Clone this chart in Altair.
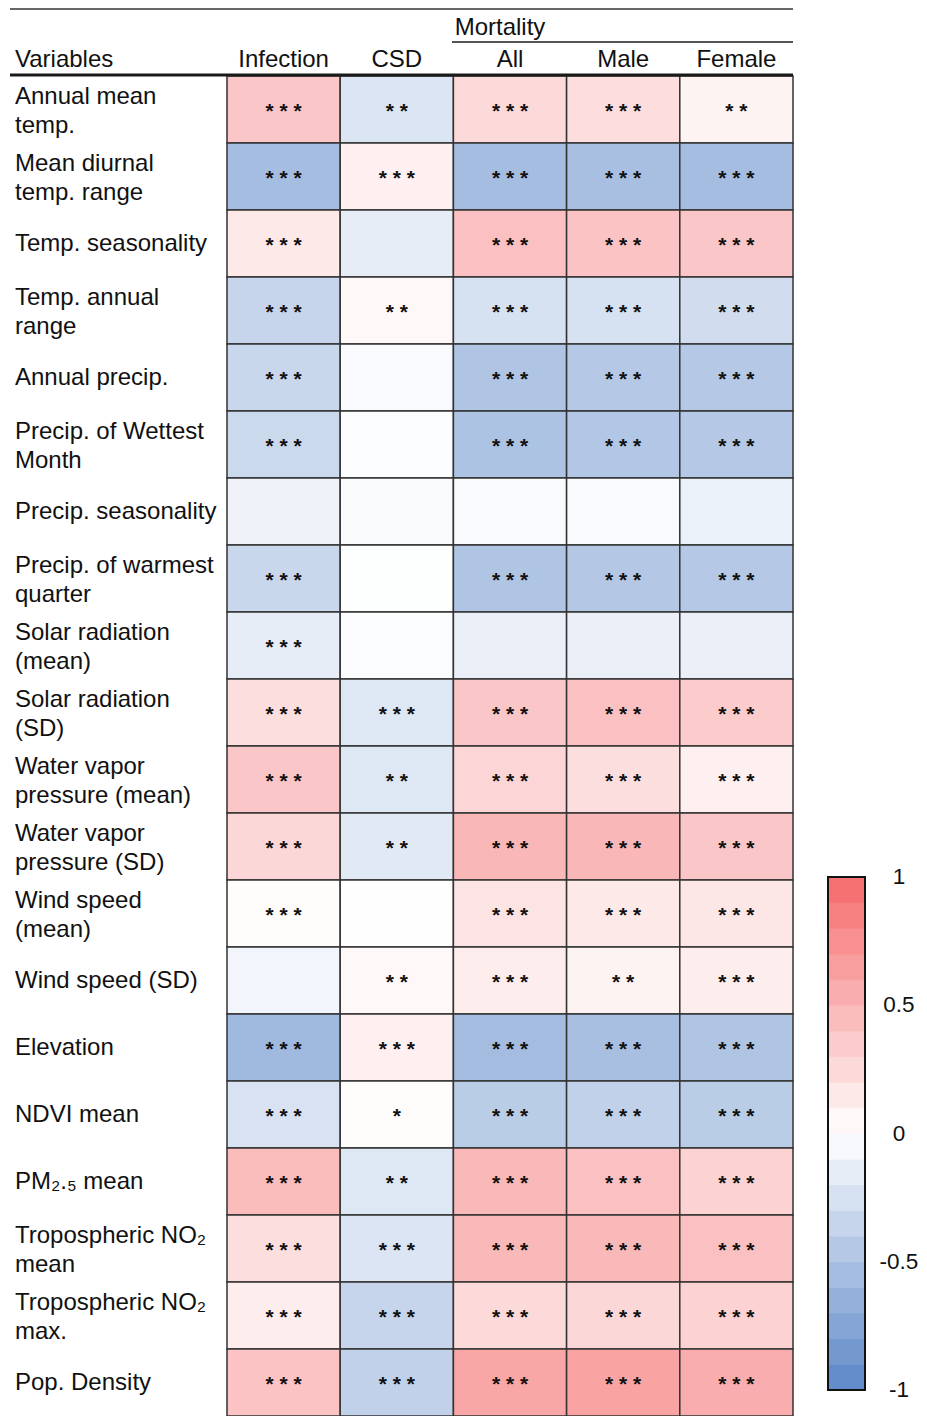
import altair as alt
import pandas as pd

variables = [
    "Annual mean\ntemp.", "Mean diurnal\ntemp. range", "Temp. seasonality",
    "Temp. annual\nrange", "Annual precip.", "Precip. of Wettest\nMonth",
    "Precip. seasonality", "Precip. of warmest\nquarter", "Solar radiation\n(mean)",
    "Solar radiation\n(SD)", "Water vapor\npressure (mean)", "Water vapor\npressure (SD)",
    "Wind speed\n(mean)", "Wind speed (SD)", "Elevation", "NDVI mean",
    "PM\u2082.\u2085 mean", "Tropospheric NO\u2082\nmean", "Tropospheric NO\u2082\nmax.",
    "Pop. Density",
]
columns = ["Infection", "CSD", "All", "Male", "Female"]

infection = [0.38, -0.55, 0.15, -0.35, -0.33, -0.32, -0.10, -0.33, -0.15, 0.22,
             0.38, 0.27, 0.02, -0.08, -0.58, -0.24, 0.45, 0.22, 0.12, 0.40]
csd = [-0.22, 0.10, -0.15, 0.05, -0.04, -0.02, -0.03, -0.01, -0.02, -0.20,
       -0.20, -0.18, 0.01, 0.05, 0.10, 0.02, -0.20, -0.22, -0.35, -0.38]
mort_all = [0.25, -0.55, 0.42, -0.25, -0.48, -0.50, -0.04, -0.48, -0.13, 0.38,
            0.28, 0.48, 0.18, 0.12, -0.56, -0.42, 0.47, 0.47, 0.25, 0.60]
mort_male = [0.23, -0.53, 0.40, -0.25, -0.45, -0.47, -0.04, -0.46, -0.13, 0.42,
             0.22, 0.48, 0.15, 0.08, -0.53, -0.38, 0.42, 0.47, 0.27, 0.62]
mort_female = [0.08, -0.55, 0.38, -0.28, -0.45, -0.45, -0.12, -0.45, -0.13, 0.35,
               0.10, 0.38, 0.17, 0.12, -0.48, -0.42, 0.30, 0.42, 0.30, 0.55]

stars_infection = ["***", "***", "***", "***", "***", "***", "", "***", "***", "***",
                   "***", "***", "***", "", "***", "***", "***", "***", "***", "***"]
stars_csd = ["**", "***", "", "**", "", "", "", "", "", "***",
             "**", "**", "", "**", "***", "*", "**", "***", "***", "***"]
stars_all = ["***", "***", "***", "***", "***", "***", "", "***", "", "***",
             "***", "***", "***", "***", "***", "***", "***", "***", "***", "***"]
stars_male = ["***", "***", "***", "***", "***", "***", "", "***", "", "***",
              "***", "***", "***", "**", "***", "***", "***", "***", "***", "***"]
stars_female = ["**", "***", "***", "***", "***", "***", "", "***", "", "***",
                "***", "***", "***", "***", "***", "***", "***", "***", "***", "***"]

# colour bar: step edges and tick labels
legend_edges = [-1.0, -0.9, -0.8, -0.7, -0.6, -0.5, -0.4, -0.3, -0.2, -0.1, 0.0,
                0.1, 0.2, 0.3, 0.4, 0.5, 0.6, 0.7, 0.8, 0.9, 1.0]
legend_values = [-1, -0.5, 0, 0.5, 1]
legend_labels = ["-1", "-0.5", "0", "0.5", "1"]

FONT = "Liberation Sans"
W, H = 566, 1340

rows = []
for col, vals, stars in zip(columns,
                            [infection, csd, mort_all, mort_male, mort_female],
                            [stars_infection, stars_csd, stars_all, stars_male, stars_female]):
    for var, v, s in zip(variables, vals, stars):
        rows.append({"variable": var, "column": col, "value": v,
                     "stars": " ".join(list(s))})
df = pd.DataFrame(rows)

color_scale = alt.Scale(domain=[-1, 0, 1], range=["#5B87C7", "#FFFFFF", "#F56A6B"],
                        interpolate="rgb")

xs = alt.X("column:N", sort=columns, axis=None,
           scale=alt.Scale(paddingInner=0, paddingOuter=0))
ys = alt.Y("variable:N", sort=variables, axis=None,
           scale=alt.Scale(paddingInner=0, paddingOuter=0))

cells = alt.Chart(df).mark_rect(stroke="#333333", strokeWidth=1.5).encode(
    x=xs, y=ys, color=alt.Color("value:Q", scale=color_scale, legend=None)
)

star_text = alt.Chart(df).mark_text(
    font=FONT, fontSize=21, fontWeight="bold", color="#111", baseline="middle", dy=2
).encode(x=xs, y=ys, text="stars:N")

one_line = [v for v in variables if "\n" not in v]
two_line = [v for v in variables if "\n" in v]

row_labels_1 = alt.Chart(pd.DataFrame({"variable": one_line})).mark_text(
    font=FONT, fontSize=24, color="#111", align="left", baseline="middle"
).encode(y=ys, x=alt.value(-212), text="variable:N")

row_labels_2 = alt.Chart(pd.DataFrame({"variable": two_line})).mark_text(
    font=FONT, fontSize=24, color="#111", align="left", baseline="middle",
    lineBreak="\n", lineHeight=29, dy=-13
).encode(y=ys, x=alt.value(-212), text="variable:N")

head_df = pd.DataFrame({"column": columns})
col_heads = alt.Chart(head_df).mark_text(
    font=FONT, fontSize=24, color="#111", baseline="middle"
).encode(x=xs, y=alt.value(-16), text="column:N")

one = pd.DataFrame({"k": [0]})
var_head = alt.Chart(one).mark_text(
    font=FONT, fontSize=24, color="#111", align="left", baseline="middle"
).encode(x=alt.value(-212), y=alt.value(-16), text=alt.value("Variables"))

mort_head = alt.Chart(one).mark_text(
    font=FONT, fontSize=24, color="#111", baseline="middle"
).encode(x=alt.value(273), y=alt.value(-48), text=alt.value("Mortality"))

top_line = alt.Chart(one).mark_rule(color="#666666", strokeWidth=2).encode(
    x=alt.value(-217), x2=alt.value(W), y=alt.value(-67)
)
mort_line = alt.Chart(one).mark_rule(color="#555555", strokeWidth=2).encode(
    x=alt.value(225), x2=alt.value(W), y=alt.value(-34)
)
head_line = alt.Chart(one).mark_rule(color="#1a1a1a", strokeWidth=3).encode(
    x=alt.value(-217), x2=alt.value(W), y=alt.value(-1)
)

main = alt.layer(
    cells, star_text, row_labels_1, row_labels_2, col_heads, var_head, mort_head,
    top_line, mort_line, head_line
)

# ---- colour bar drawn from its own step data ----
leg_scale = alt.Scale(domain=[-1, 1], range=[1314, 801], nice=False, zero=False)
steps = pd.DataFrame({
    "lo": legend_edges[:-1],
    "hi": legend_edges[1:],
    "value": [(a + b) / 2 for a, b in zip(legend_edges[:-1], legend_edges[1:])],
})
bar = alt.Chart(steps).mark_rect(strokeWidth=0.8).encode(
    x=alt.value(601), x2=alt.value(638),
    y=alt.Y("lo:Q", scale=leg_scale, axis=None), y2="hi:Q",
    color=alt.Color("value:Q", scale=color_scale, legend=None),
    stroke=alt.Stroke("value:Q", scale=color_scale, legend=None),
)
frame = alt.Chart(pd.DataFrame({"lo": [legend_edges[0]], "hi": [legend_edges[-1]]})).mark_rect(
    fillOpacity=0, stroke="#111111", strokeWidth=2
).encode(
    x=alt.value(601), x2=alt.value(638),
    y=alt.Y("lo:Q", scale=leg_scale, axis=None), y2="hi:Q",
)
ticks = alt.Chart(pd.DataFrame({"v": legend_values, "t": legend_labels})).mark_text(
    font=FONT, fontSize=22.5, color="#111", align="center", baseline="middle"
).encode(
    x=alt.value(672),
    y=alt.Y("v:Q", scale=leg_scale, axis=None),
    text="t:N",
)
legend = alt.layer(bar, frame, ticks)

chart = alt.layer(main, legend).resolve_scale(y="independent").properties(
    width=W, height=H,
    autosize=alt.AutoSizeParams(type="none"),
    padding={"left": 219, "top": 68, "right": 126, "bottom": 0},
).configure_view(strokeWidth=0)

chart.save("out.html", embed_options={"renderer": "svg", "actions": False})
